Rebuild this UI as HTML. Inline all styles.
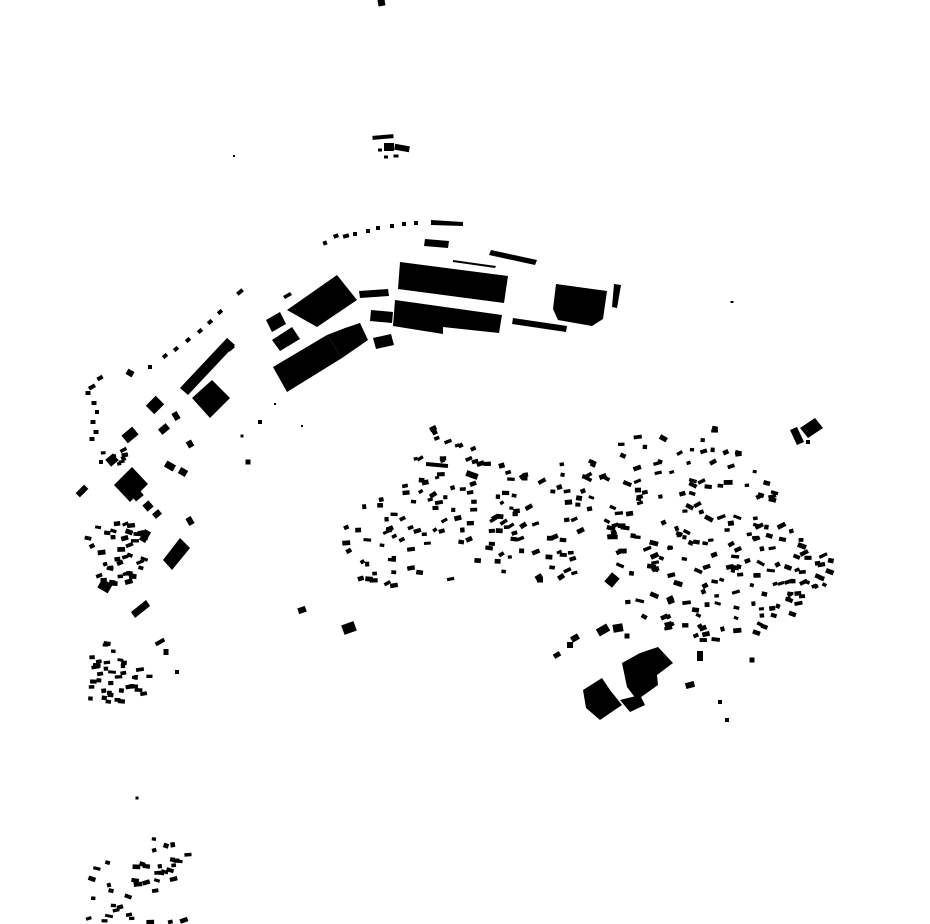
<!DOCTYPE html>
<html><head><meta charset="utf-8"><style>
html,body{margin:0;padding:0;background:#fff;width:930px;height:924px;overflow:hidden}
svg{display:block}
</style></head><body>
<svg id="s" width="930" height="924" viewBox="0 0 930 924" xmlns="http://www.w3.org/2000/svg">
<g fill="#000">
<polygon points="400,262 508,276 504,303 398,289"/>
<polygon points="395,300 502,315 499,333 443,327 443,334 393,326"/>
<polygon points="556,284 607,291 603,319 592,326 558,320 553,309"/>
<polygon points="614,284 621,285 617,308 612,307"/>
<polygon points="453,260 496,266 495,268 453,262"/>
<polygon points="491,250 537,260 535,265 489,255"/>
<polygon points="425,239 449,241 448,248 424,246"/>
<polygon points="431,220 463,222 463,226 431,225"/>
<polygon points="513,318 567,326 566,332 512,324"/>
<polygon points="287,310 337,275 357,300 317,327"/>
<polygon points="273,367 327,335 342,358 287,392"/>
<polygon points="327,335 345,328 360,323 368,340 342,358"/>
<polygon points="359,291 388,289 389,296 360,298"/>
<polygon points="371,310 393,312 392,323 370,321"/>
<polygon points="373,338 391,334 394,345 376,349"/>
<polygon points="266,320 280,312 286,324 272,332"/>
<polygon points="272,340 292,327 300,339 280,351"/>
<polygon points="283,296 290,292 292,295 285,299"/>
<polygon points="583,690 602,678 610,690 622,705 600,720 586,708"/>
<polygon points="622,663 640,653 658,647 673,663 657,675 658,685 637,700 627,687"/>
<polygon points="620,700 640,695 645,705 630,712"/>
<polygon points="180,388 227,338 235,345 188,395"/>
<polygon points="192,398 212,380 230,398 210,418"/>
<polygon points="114,485 132,467 148,484 130,502"/>
<polygon points="163,560 180,538 190,548 172,570"/>
<polygon points="131,612 146,600 150,606 135,618"/>
<polygon points="800,428 815,418 823,428 808,438"/>
<polygon points="790,430 797,427 804,442 797,445"/>
</g>
<g id="small" fill="#000"></g>
</svg>
<script>
var g=document.getElementById('small');
var fixed=[[381,0,7,12,-10],[383,137,21,4,-5],[389,147,10,8,0],[380,150,4,3,0],[402,148,15,6,10],[386,157,4,3,0],[396,156,5,3,0],[234,156,2,2,0],
[325,243,4,4,-20],[336,236,5,4,-20],[346,236,6,4,-15],[355,234,4,4,0],[368,231,4,4,0],[378,228,4,4,0],[392,226,4,4,0],[404,224,4,4,0],[416,223,4,4,0],
[240,292,7,4,-40],[220,312,5,4,-40],[210,322,5,4,-40],[200,331,5,4,-40],[188,340,5,4,-40],[176,349,5,4,-40],[165,356,5,4,-40],[150,367,4,4,0],[130,373,7,6,30],[100,378,6,4,-30],[92,387,7,4,-30],[88,393,5,4,0],[94,403,5,4,0],[97,412,4,4,0],[93,422,5,4,0],[96,432,5,4,0],[92,439,5,4,0],
[155,405,14,12,-45],[130,435,14,10,-40],[112,460,10,9,-40],[101,462,4,4,0],[82,491,12,6,-45],[164,429,10,7,-40],[176,416,6,8,-30],[190,444,6,7,-30],[231,348,7,4,-40],[170,466,10,7,30],[183,472,8,7,30],[138,496,10,6,-40],[148,506,8,8,-40],[157,514,8,6,-40],[190,521,6,8,-30],[248,462,5,5,0],[260,422,4,4,0],[242,436,3,3,0],[275,404,2,2,0],[302,426,2,2,0],
[302,610,8,6,-20],[349,628,13,10,-20],[540,580,6,5,0],[557,655,7,5,-30],[570,645,6,6,0],[575,638,8,6,-30],[603,630,12,8,-30],[618,628,10,8,-10],[627,636,5,5,0],[690,685,9,6,-15],[720,702,4,4,0],[727,720,4,4,0],[752,660,5,5,0],[808,442,4,4,0],[732,302,3,2,0],[137,798,3,3,0],[105,586,12,10,30],[145,536,7,12,30],[160,642,10,4,-30],[166,652,5,6,0],[177,672,4,4,0],[437,465,22,4,5],[472,475,12,6,20],[612,580,10,12,40],[700,656,6,10,0]];
var seed=7;function r(){seed=(seed*16807)%2147483647;return (seed-1)/2147483646;}
function inPoly(x,y,p){var c=false;for(var i=0,j=p.length-1;i<p.length;j=i++){var xi=p[i][0],yi=p[i][1],xj=p[j][0],yj=p[j][1];if(((yi>y)!=(yj>y))&&(x<(xj-xi)*(y-yi)/(yj-yi)+xi))c=!c;}return c;}
function fill(p,n,sx,sy,a0,a1){var minx=1e9,maxx=-1e9,miny=1e9,maxy=-1e9;p.forEach(function(q){minx=Math.min(minx,q[0]);maxx=Math.max(maxx,q[0]);miny=Math.min(miny,q[1]);maxy=Math.max(maxy,q[1]);});
var k=0,t=0;while(k<n&&t<20000){t++;var x=minx+r()*(maxx-minx),y=miny+r()*(maxy-miny);if(!inPoly(x,y,p))continue;fixed.push([x,y,sx[0]+r()*(sx[1]-sx[0]),sy[0]+r()*(sy[1]-sy[0]),a0+r()*(a1-a0)]);k++;}}
fill([[335,528],[405,470],[435,425],[470,440],[500,455],[545,470],[580,470],[582,585],[545,585],[480,568],[420,592],[355,585],[335,545]],140,[4,8],[3,5],-35,10);
fill([[560,462],[640,436],[720,428],[760,470],[795,522],[848,545],[848,568],[810,605],[760,645],[700,640],[640,620],[612,580],[600,520],[565,500]],215,[4,9],[3,5],-30,30);
fill([[85,525],[130,520],[150,540],[140,580],[115,590],[85,575]],38,[4,8],[3,5],-30,20);
fill([[88,645],[110,640],[150,668],[150,705],[90,705]],38,[4,8],[3,5],-10,10);
fill([[88,855],[165,835],[190,855],[190,924],[88,924]],42,[4,8],[3,5],-20,20);
fill([[98,455],[125,440],[130,470],[100,472]],8,[4,7],[3,5],-30,0);
fixed.forEach(function(f){var e=document.createElementNS('http://www.w3.org/2000/svg','rect');
e.setAttribute('x',(f[0]-f[2]/2).toFixed(1));e.setAttribute('y',(f[1]-f[3]/2).toFixed(1));e.setAttribute('width',f[2].toFixed(1));e.setAttribute('height',f[3].toFixed(1));
if(f[4])e.setAttribute('transform','rotate('+f[4].toFixed(1)+' '+f[0].toFixed(1)+' '+f[1].toFixed(1)+')');g.appendChild(e);});
</script>
</body></html>
